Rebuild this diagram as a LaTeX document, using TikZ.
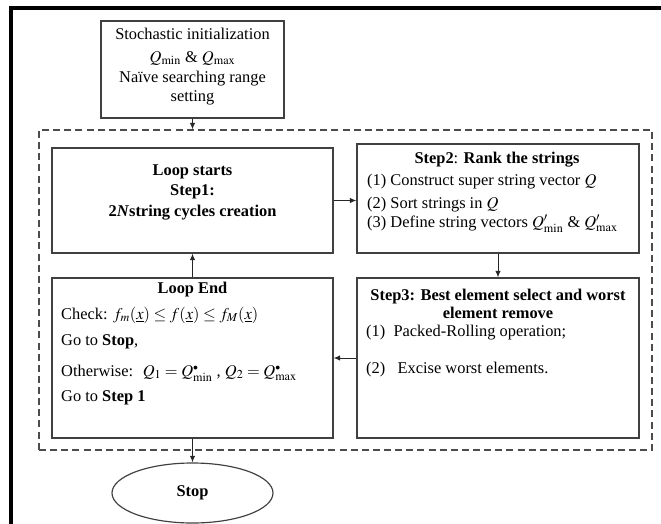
\documentclass[tikz,border=0pt,12pt]{standalone}
\usepackage{mathptmx}
\usepackage{fontspec}
\setmainfont{Liberation Serif}
\usetikzlibrary{arrows.meta,shapes.geometric,fit}

\tikzset{
  box/.style={draw=black!75, line width=1pt, inner sep=0pt},
  loopframe/.style={draw=black!70, line width=1pt, dash pattern=on 6pt off 3.5pt, inner sep=0pt},
  arr/.style={-{Latex[length=5.5pt,width=4.5pt]}, line width=0.8pt, black!85},
  txt/.style={inner sep=0pt},
}

\begin{document}
\fontsize{14}{16}\selectfont
\begin{tikzpicture}[x=0.03cm,y=-0.03cm]
  \useasboundingbox (0,0) rectangle (661,524);
  % page frame
  \draw[line width=3pt] (11,540) -- (11,8) -- (680,8);

  % boxes
  \node[box, fit={(101,21)(284,118)}] (init) {};
  \node[loopframe, fit={(39,130)(652,450)}] (loop) {};
  \node[box, fit={(52,148)(333,253)}] (start) {};
  \node[box, fit={(357,144)(639,253)}] (rank) {};
  \node[box, fit={(357,278)(639,438)}] (select) {};
  \node[box, fit={(52,278)(333,438)}] (finish) {};
  \node[box, ellipse, minimum width=4.83cm, minimum height=1.8cm] (stop) at (192.5,493) {\textbf{Stop}};

  % texts
  \node[txt, align=center] (inittxt) at (192.5,67)
    {Stochastic initialization\\[3pt] $Q_{\min}$ \& $Q_{\max}$\\[1pt] Naïve searching range\\[1pt] setting};
  \node[txt, align=center, font=\bfseries] (starttxt) at (192.5,192)
    {Loop starts\\[1.5pt] Step1:\\[1.5pt] 2\textit{N}string cycles creation};

  \node[txt] (ranktitle) at (497,160) {\textbf{Step2}: \textbf{Rank the strings}};
  \node[txt, anchor=west, align=left] (ranklist) at (367,203)
    {(1) Construct super string vector $Q$\\[4pt] (2) Sort strings in $Q$\\[0pt] (3) Define string vectors $Q'_{\min}$ \& $Q'_{\max}$};

  \node[txt, align=center, font=\bfseries] (selecttitle) at (498,304)
    {Step3: Best element select and worst\\[0pt] element remove};
  \node[txt, anchor=west] (select1) at (366,333) {(1)\ \ Packed-Rolling operation;};
  \node[txt, anchor=west] (select2) at (366,370) {(2)\ \ \ Excise worst elements.};

  \node[txt, font=\bfseries] (finishtitle) at (192.5,290) {Loop End};
  \node[txt, anchor=west] (check) at (61,315)
    {Check: $f_m(\underline{x}) \le f(\underline{x}) \le f_M(\underline{x})$};
  \node[txt, anchor=west] (gostop) at (61,342) {Go to \textbf{Stop},};
  \node[txt, anchor=west] (otherwise) at (61,373)
    {Otherwise: \ $Q_1 = Q^{\scriptscriptstyle\bullet}_{\min}$ , $Q_2 = Q^{\scriptscriptstyle\bullet}_{\max}$};
  \node[txt, anchor=west] (gostep) at (61,398) {Go to \textbf{Step 1}};

  % connectors
  \draw[arr] (init.south) -- (init.south |- loop.north);
  \draw[arr] (start.east) -- (start.east -| rank.west);
  \draw[arr] (rank.south) -- (rank.south |- select.north);
  \draw[arr] (select.west) -- (select.west -| finish.east);
  \draw[arr] (finish.north) -- (start.south);
  \draw[arr] (finish.south) -- (stop.north);
\end{tikzpicture}
\end{document}
